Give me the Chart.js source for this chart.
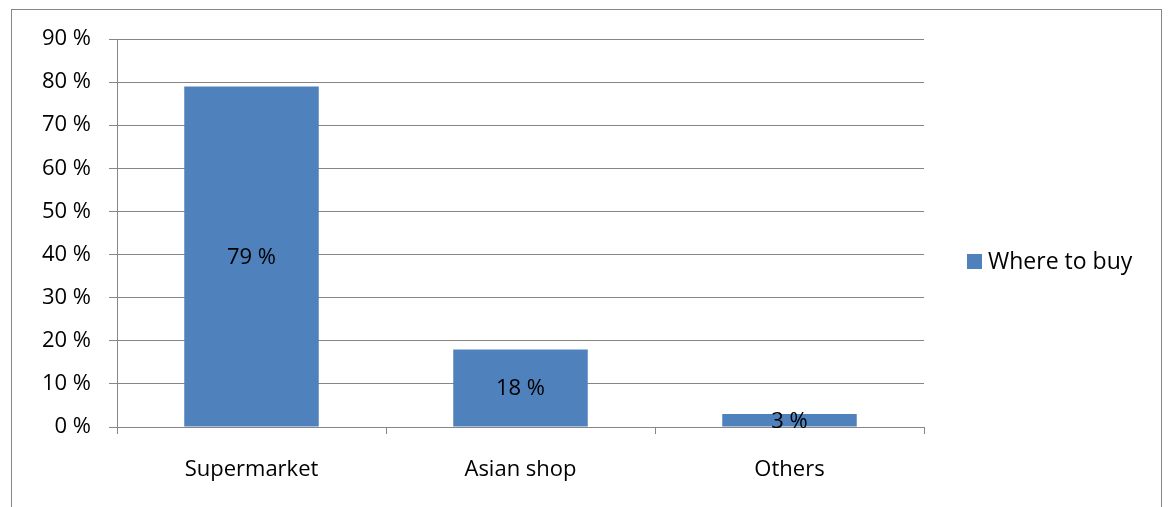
<!DOCTYPE html>
<html>
<head>
<meta charset="utf-8">
<script src="https://cdn.jsdelivr.net/npm/chart.js@4/dist/chart.umd.min.js"></script>
<style>
  html, body { margin: 0; padding: 0; background: #fff; }
  #wrap { width: 1168px; height: 507px; }
</style>
</head>
<body>
<div id="wrap"><canvas id="chart" width="1168" height="507"></canvas></div>
<script>
const categories = ['Supermarket', 'Asian shop', 'Others'];
const shares = [79, 18, 3];
const seriesName = 'Where to buy';
const yTicks = [0, 10, 20, 30, 40, 50, 60, 70, 80, 90];

const BLUE = '#4F81BD';
const GRID = '#868686';
const FONT = '"Open Sans", "Noto Sans", sans-serif';
const SIZE = 22;

// marco exterior + etiquetas centradas en cada barra + leyenda a la derecha
const extras = {
  id: 'extras',
  beforeDraw(chart) {
    const ctx = chart.ctx;
    ctx.save();
    ctx.fillStyle = '#fff';
    ctx.fillRect(0, 0, chart.width, chart.height);
    ctx.strokeStyle = GRID;
    ctx.lineWidth = 1;
    ctx.strokeRect(11.5, 9.5, 1150, 520);
    ctx.restore();
  },
  afterDatasetsDraw(chart) {
    const ctx = chart.ctx;
    const meta = chart.getDatasetMeta(0);
    ctx.save();
    ctx.font = `${SIZE}px ${FONT}`;
    ctx.fillStyle = '#000';
    ctx.textAlign = 'center';
    ctx.textBaseline = 'middle';
    meta.data.forEach((bar, i) => {
      const { x, y, base } = bar.getProps(['x', 'y', 'base'], true);
      ctx.fillText(shares[i] + ' %', x, (y + base) / 2 + 1);
    });

    const ds = chart.data.datasets[0];
    const ly = 261;
    ctx.fillStyle = ds.backgroundColor;
    ctx.fillRect(967, ly - 7, 15, 15);
    ctx.fillStyle = '#000';
    ctx.textAlign = 'left';
    ctx.font = `${SIZE + 1}px ${FONT}`;
    ctx.fillText(ds.label, 988, ly + 1);
    ctx.restore();
  }
};

new Chart(document.getElementById('chart'), {
  type: 'bar',
  data: {
    labels: categories,
    datasets: [{
      label: seriesName,
      data: shares,
      backgroundColor: BLUE,
      categoryPercentage: 1,
      barPercentage: 0.5,
    }],
  },
  options: {
    responsive: false,
    animation: false,
    layout: { padding: { left: 0, top: 39, right: 244, bottom: 0 } },
    plugins: { legend: { display: false }, tooltip: { enabled: false } },
    scales: {
      x: {
        afterFit: (s) => { s.height = 80; },
        grid: { offset: true, drawOnChartArea: false, drawTicks: true, tickLength: 7, color: GRID },
        border: { color: GRID },
        ticks: { color: '#000', font: { family: FONT, size: SIZE }, padding: 23 },
      },
      y: {
        min: 0,
        max: 90,
        afterFit: (s) => { s.width = 117; },
        afterBuildTicks: (s) => { s.ticks = yTicks.map((v) => ({ value: v })); },
        grid: { color: GRID, tickLength: 8 },
        border: { color: GRID },
        ticks: {
          color: '#000',
          font: { family: FONT, size: SIZE },
          padding: 18,
          callback: (v) => v + ' %',
        },
      },
    },
  },
  plugins: [extras],
});
</script>
</body>
</html>
